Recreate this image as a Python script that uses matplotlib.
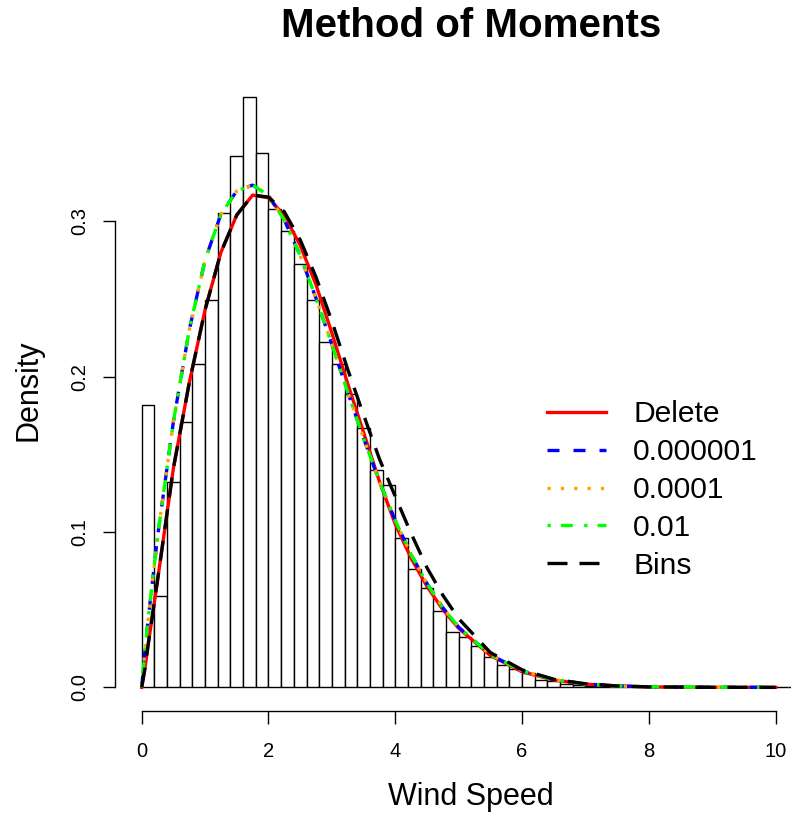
import numpy as np
import matplotlib
matplotlib.use("Agg")
import matplotlib.pyplot as plt

plt.rcParams['font.family'] = ['Liberation Sans', 'DejaVu Sans']

# histogram (bin width 0.2, density scale)
bin_edges = np.round(np.arange(0, 10.41, 0.2), 2)
bin_dens = [0.1816, 0.0588, 0.1320, 0.1708, 0.2084, 0.2492, 0.3054, 0.3419,
            0.3797, 0.3441, 0.3078, 0.2936, 0.2726, 0.2492, 0.2224, 0.2084,
            0.1891, 0.1666, 0.1397, 0.1301, 0.0964, 0.0760, 0.0640, 0.0489,
            0.0356, 0.0324, 0.0266, 0.0195, 0.0146, 0.0116, 0.0090, 0.0047,
            0.0044, 0.0023, 0.0014, 0.0010, 0.0008, 0.0005, 0.0003, 0.0003,
            0.0002, 0.0001, 0.0001, 0.0, 0.0, 0.0, 0.0, 0.0, 0.0, 0.0, 0.0, 0.0]

# fitted densities
x_fit = [0, 0.05, 0.1, 0.25, 0.5, 0.75, 1.0, 1.25, 1.5, 1.75, 2.0, 2.25, 2.5,
         2.75, 3.0, 3.25, 3.5, 3.75, 4.0, 4.25, 4.5, 4.75, 5.0, 5.5, 6.0,
         6.5, 7.0, 7.5, 8.0, 9.0, 10.0]
dens_delete = [0, 0.012, 0.027, 0.069, 0.141, 0.196, 0.243, 0.280, 0.304,
               0.3168, 0.3150, 0.3035, 0.2845, 0.259, 0.228, 0.1954, 0.164,
               0.1325, 0.105, 0.083, 0.065, 0.050, 0.038, 0.0205, 0.0100,
               0.0047, 0.0021, 0.0009, 0.0003, 0.00003, 0.0]
dens_1e6 = [0, 0.023, 0.043, 0.097, 0.171, 0.230, 0.275, 0.3045, 0.3195,
            0.3232, 0.3166, 0.3007, 0.2779, 0.2504, 0.2206, 0.1900, 0.1602,
            0.1325, 0.1074, 0.0855, 0.0668, 0.0513, 0.0387, 0.0209, 0.0106,
            0.0050, 0.0022, 0.0009, 0.0004, 0.00004, 0.0]
dens_1e4 = list(dens_1e6)
dens_1e2 = list(dens_1e6)
dens_bins = [0, 0.012, 0.027, 0.069, 0.141, 0.196, 0.243, 0.280, 0.304,
             0.3168, 0.3155, 0.306, 0.288, 0.264, 0.2356, 0.2046, 0.1753,
             0.147, 0.1228, 0.099, 0.077, 0.0593, 0.0442, 0.0224, 0.0113,
             0.0052, 0.0023, 0.0009, 0.0003, 0.00003, 0.0]

labels = ['Delete', '0.000001', '0.0001', '0.01', 'Bins']

fig = plt.figure(figsize=(7.91, 8.16), dpi=100)
ax = fig.add_axes([0.1458, 0.1287, 0.9002, 0.7806])

ax.bar(bin_edges[:-1], bin_dens, width=0.2, align='edge',
       facecolor='white', edgecolor='black', linewidth=1.0)

lw = 2.4
ax.plot(x_fit, dens_delete, color='red', lw=lw, label=labels[0])
ax.plot(x_fit, dens_1e6, color='blue', lw=lw, dashes=(3.6, 4.2), label=labels[1])
ax.plot(x_fit, dens_1e4, color='orange', lw=lw, dashes=(1, 3), label=labels[2])
ax.plot(x_fit, dens_1e2, color='#00ff00', lw=lw, dashes=(1, 3, 3.6, 3.4), label=labels[3])
ax.plot(x_fit, dens_bins, color='black', lw=lw, dashes=(6, 3.6), label=labels[4])

ax.set_xlim(-0.416, 10.816)
ax.set_ylim(-0.0152, 0.3947)

for s in ['top', 'right']:
    ax.spines[s].set_visible(False)
ax.spines['left'].set_bounds(0, 0.3)
ax.spines['bottom'].set_bounds(0, 10)
ax.spines['left'].set_linewidth(1.0)
ax.spines['bottom'].set_linewidth(1.0)

ax.set_xticks([0, 2, 4, 6, 8, 10])
ax.set_yticks([0, 0.1, 0.2, 0.3])
ax.set_yticklabels(['0.0', '0.1', '0.2', '0.3'], rotation=90, va='center')
ax.tick_params(direction='out', length=9, width=1.0, labelsize=14.5)
ax.tick_params(axis='x', pad=13)
ax.tick_params(axis='y', pad=10)

fig.text(471 / 791, 1 - 26 / 816, 'Method of Moments', ha='center', va='center',
         fontsize=29, fontweight='bold')
fig.text(471 / 791, 1 - 797 / 816, 'Wind Speed', ha='center', va='center', fontsize=22)
fig.text(28 / 791, 1 - 390 / 816, 'Density', ha='center', va='center',
         fontsize=22, rotation=90)

ax.legend(loc='center left', bbox_to_anchor=(547 / 791, 1 - 490 / 816),
          bbox_transform=fig.transFigure, frameon=False, fontsize=21.6,
          handlelength=1.97, handletextpad=0.9, labelspacing=0.33,
          borderpad=0, borderaxespad=0)

fig.savefig('out.png', dpi=100)
